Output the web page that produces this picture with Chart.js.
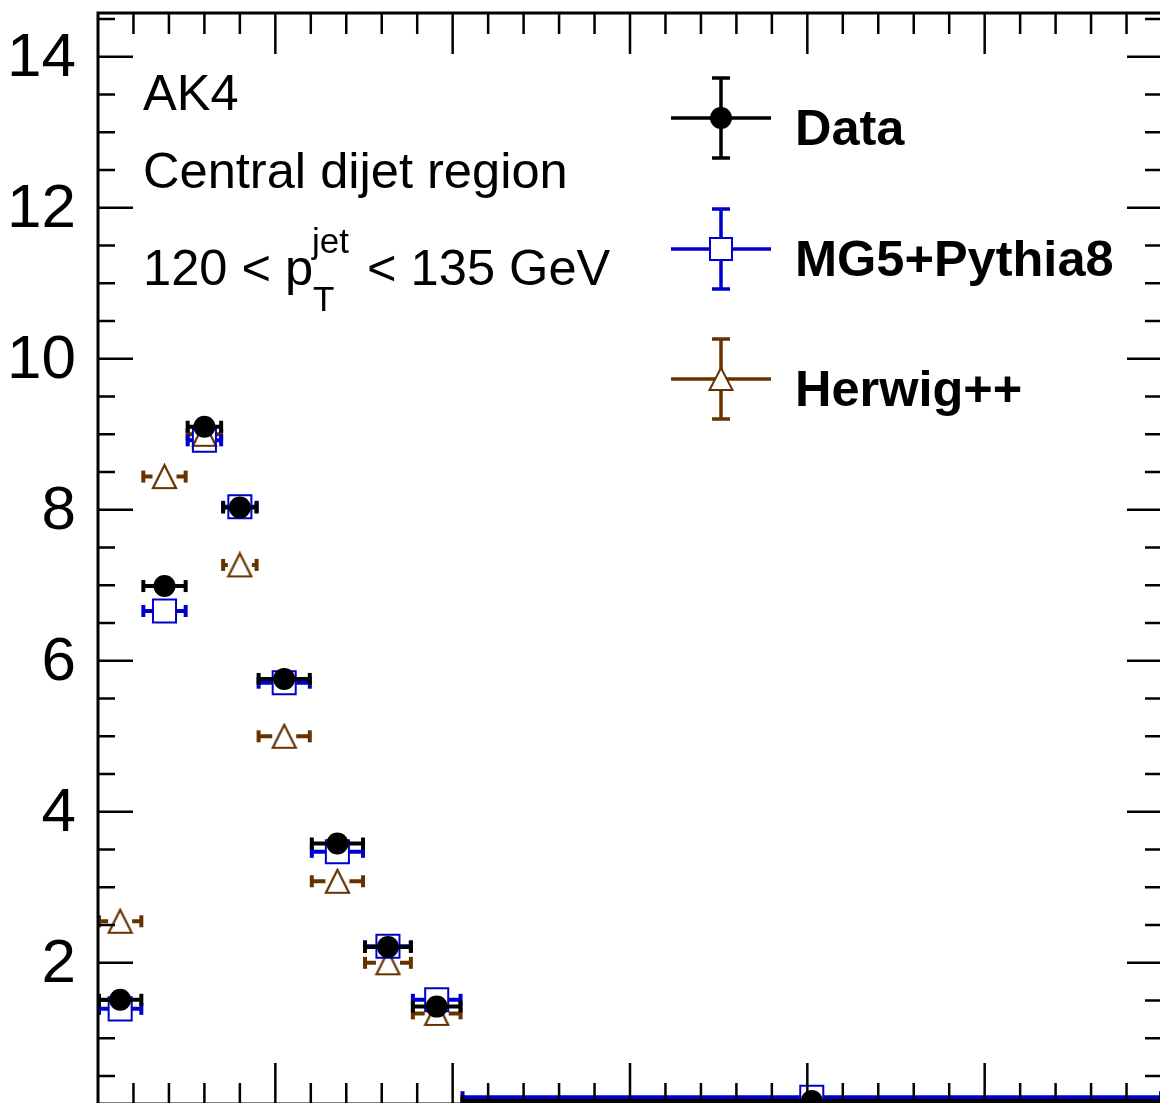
<!DOCTYPE html>
<html>
<head>
<meta charset="utf-8">
<script src="https://cdn.jsdelivr.net/npm/chart.js@4.4.1/dist/chart.umd.min.js"></script>
<style>
  html, body { margin: 0; padding: 0; background: #fff; overflow: hidden; }
  canvas { display: block; }
</style>
</head>
<body>
<canvas id="shapeChart" width="1165" height="1106"></canvas>
<script>
// bin edges along x (the crop shows no x labels, axis runs 0 - 0.6)
const binEdges = [0, 0.025, 0.05, 0.07, 0.09, 0.12, 0.15, 0.177, 0.205, 0.6];

// normalised distributions, one value per bin
const dataValues   = [1.51, 6.99, 9.10, 8.03, 5.76, 3.58, 2.21, 1.42, 0.17];
const mgValues     = [1.39, 6.66, 8.92, 8.04, 5.71, 3.47, 2.22, 1.51, 0.22];
const herwigValues = [2.55, 8.44, 9.00, 7.27, 5.00, 3.08, 2.00, 1.33, 0.14];

const yTickValues = [2, 4, 6, 8, 10, 12, 14];
const seriesNames = ["Data", "MG5+Pythia8", "Herwig++"];
const seriesColors = ["#000000", "#0000cc", "#663300"];

const textFont = "'Liberation Sans', Arial, Helvetica, sans-serif";

function binPoints(values) {
  return values.map(function (v, i) {
    return {
      x: (binEdges[i] + binEdges[i + 1]) / 2,
      y: v,
      xlo: binEdges[i],
      xhi: binEdges[i + 1],
    };
  });
}

// open triangle as a small canvas so it sits centred on the point like ROOT's marker
function makeTriangle(size, color) {
  var c = document.createElement("canvas");
  c.width = size + 4;
  c.height = size + 4;
  var g = c.getContext("2d");
  g.strokeStyle = color;
  g.lineWidth = 2.2;
  g.beginPath();
  g.moveTo(c.width / 2, 2);
  g.lineTo(c.width - 2, c.height - 2);
  g.lineTo(2, c.height - 2);
  g.closePath();
  g.stroke();
  return c;
}

const triangleMarker = makeTriangle(23, seriesColors[2]);

// horizontal (bin width) error bars with small end caps
const errorBarPlugin = {
  id: "errorBars",
  beforeDatasetDraw: function (chart, args) {
    var ctx = chart.ctx;
    var xs = chart.scales.x, ys = chart.scales.y;
    var ds = chart.data.datasets[args.index];
    ctx.save();
    ctx.strokeStyle = ds.borderColor;
    ctx.fillStyle = ds.borderColor;
    ctx.lineWidth = 4;
    ds.data.forEach(function (p) {
      var xl = xs.getPixelForValue(p.xlo);
      var xh = xs.getPixelForValue(p.xhi);
      var xc = xs.getPixelForValue(p.x);
      var yc = ys.getPixelForValue(p.y);
      ctx.beginPath();
      ctx.moveTo(xl, yc);
      ctx.lineTo(xc - ds.barGap, yc);
      ctx.moveTo(xc + ds.barGap, yc);
      ctx.lineTo(xh, yc);
      ctx.stroke();
      ctx.fillRect(xl - 1, yc - 6, 4, 12);
      ctx.fillRect(xh - 3, yc - 6, 4, 12);
    });
    ctx.restore();
  },
};

// ROOT-like frame with inward ticks on all four sides, plus y labels
const framePlugin = {
  id: "frame",
  afterDatasetsDraw: function (chart) {
    var ctx = chart.ctx, a = chart.chartArea;
    var xs = chart.scales.x, ys = chart.scales.y;
    ctx.save();
    ctx.strokeStyle = "#000";
    ctx.lineWidth = 2.5;
    ctx.beginPath();
    for (var k = 1; k * 0.5 < ys.max; k++) {
      var v = k * 0.5;
      if (v < ys.min) continue;
      var py = ys.getPixelForValue(v);
      var len = k % 4 === 0 ? 35 : 17;
      ctx.moveTo(a.left, py);
      ctx.lineTo(a.left + len, py);
      ctx.moveTo(a.right, py);
      ctx.lineTo(a.right - len, py);
    }
    for (var j = 1; j * 0.02 < xs.max - 1e-9; j++) {
      var px = xs.getPixelForValue(j * 0.02);
      var xlen = j % 5 === 0 ? 41 : 21;
      ctx.moveTo(px, a.top);
      ctx.lineTo(px, a.top + xlen);
      ctx.moveTo(px, a.bottom);
      ctx.lineTo(px, a.bottom - xlen);
    }
    ctx.stroke();
    ctx.lineWidth = 3;
    ctx.strokeRect(a.left, a.top, a.right - a.left, a.bottom - a.top);

    ctx.fillStyle = "#000";
    ctx.font = "62px " + textFont;
    ctx.textAlign = "right";
    ctx.textBaseline = "middle";
    yTickValues.forEach(function (t) {
      ctx.fillText(String(t), a.left - 22, ys.getPixelForValue(t) + 2);
    });
    ctx.restore();
  },
};

// labels and legend
const textPlugin = {
  id: "labels",
  afterDraw: function (chart) {
    var ctx = chart.ctx;
    ctx.save();
    ctx.fillStyle = "#000";
    ctx.textBaseline = "alphabetic";
    ctx.textAlign = "left";
    ctx.font = "50.6px " + textFont;
    ctx.fillText("AK4", 143, 110);
    ctx.fillText("Central dijet region", 143, 188);
    ctx.fillText("120 < p", 143, 285);
    ctx.fillText("< 135 GeV", 367, 285);
    ctx.font = "35px " + textFont;
    ctx.fillText("jet", 312, 253);
    ctx.fillText("T", 313, 311);

    var rows = [118, 249, 379];
    rows.forEach(function (ry, i) {
      var col = seriesColors[i];
      ctx.strokeStyle = col;
      ctx.fillStyle = col;
      ctx.lineWidth = 3.5;
      ctx.beginPath();
      ctx.moveTo(671, ry);
      ctx.lineTo(771, ry);
      ctx.moveTo(721, ry - 40);
      ctx.lineTo(721, ry + 40);
      ctx.moveTo(712, ry - 40);
      ctx.lineTo(730, ry - 40);
      ctx.moveTo(712, ry + 40);
      ctx.lineTo(730, ry + 40);
      ctx.stroke();
      if (i === 0) {
        ctx.beginPath();
        ctx.arc(721, ry, 11, 0, Math.PI * 2);
        ctx.fill();
      } else if (i === 1) {
        ctx.fillStyle = "#fff";
        ctx.fillRect(710, ry - 11, 22, 22);
        ctx.lineWidth = 2;
        ctx.strokeRect(710, ry - 11, 22, 22);
      } else {
        ctx.fillStyle = "#fff";
        ctx.beginPath();
        ctx.moveTo(721, ry - 11);
        ctx.lineTo(732.5, ry + 11);
        ctx.lineTo(709.5, ry + 11);
        ctx.closePath();
        ctx.fill();
        ctx.lineWidth = 2;
        ctx.stroke();
      }
      ctx.fillStyle = "#000";
      ctx.font = "bold 50.5px " + textFont;
      ctx.fillText(seriesNames[i], 795, ry + 27);
    });
    ctx.restore();
  },
};

document.addEventListener("DOMContentLoaded", function () {
  var ctx = document.getElementById("shapeChart").getContext("2d");
  new Chart(ctx, {
    type: "scatter",
    data: {
      datasets: [
        {
          label: seriesNames[0],
          data: binPoints(dataValues),
          pointStyle: "circle",
          pointRadius: 11,
          backgroundColor: seriesColors[0],
          borderColor: seriesColors[0],
          borderWidth: 0,
          barGap: 0,
          clip: false,
        },
        {
          label: seriesNames[1],
          data: binPoints(mgValues),
          pointStyle: "rect",
          pointRadius: 16.3,
          backgroundColor: "rgba(0,0,0,0)",
          borderColor: seriesColors[1],
          borderWidth: 2,
          barGap: 12,
          clip: false,
        },
        {
          label: seriesNames[2],
          data: binPoints(herwigValues),
          pointStyle: triangleMarker,
          pointRadius: 13,
          backgroundColor: "rgba(0,0,0,0)",
          borderColor: seriesColors[2],
          borderWidth: 0,
          barGap: 12,
          clip: false,
        },
      ],
    },
    options: {
      responsive: false,
      animation: false,
      events: [],
      devicePixelRatio: 1,
      layout: { autoPadding: false, padding: { left: 98, top: 13, right: 3, bottom: 2 } },
      plugins: {
        legend: { display: false },
        tooltip: { enabled: false },
      },
      scales: {
        x: { type: "linear", min: 0, max: 0.6, display: false },
        y: { type: "linear", min: 0.13, max: 14.58, display: false },
      },
    },
    plugins: [errorBarPlugin, framePlugin, textPlugin],
  });
});
</script>
</body>
</html>
